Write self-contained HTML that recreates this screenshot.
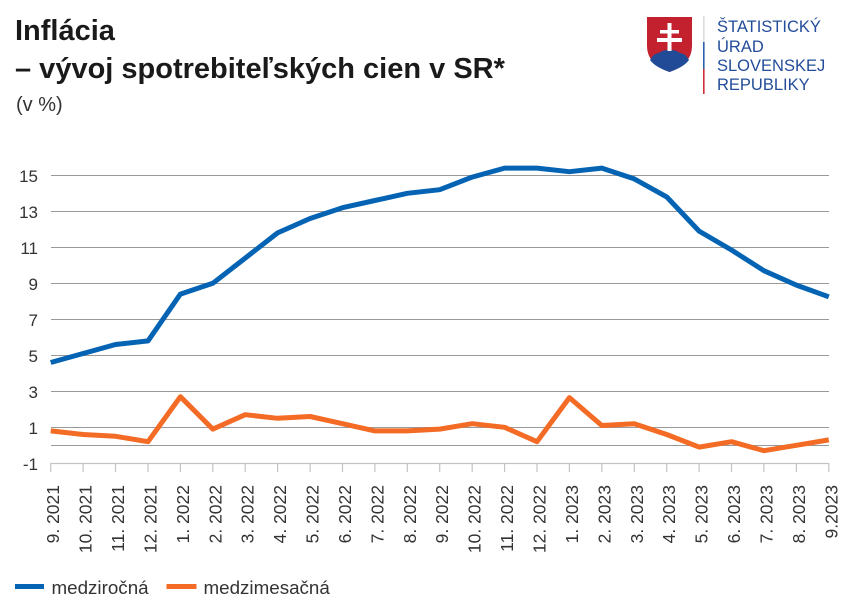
<!DOCTYPE html>
<html><head><meta charset="utf-8"><style>
html,body{margin:0;padding:0;background:#fff;}
body{width:854px;height:609px;overflow:hidden;}
svg{display:block;}
</style></head><body>
<svg width="854" height="609" viewBox="0 0 854 609" xmlns="http://www.w3.org/2000/svg" font-family="'Liberation Sans', sans-serif">
<rect width="854" height="609" fill="#fff"/>
<!-- Title -->
<text x="15" y="40" font-size="29" font-weight="bold" fill="#1a1a1a">Inflácia</text>
<text x="15" y="78" font-size="29" font-weight="bold" fill="#1a1a1a">– vývoj spotrebiteľských cien v SR*</text>
<text x="16" y="111" font-size="20" fill="#333">(v %)</text>

<!-- Logo -->
<path d="M647,17 L692,17 L692,46 Q692,64 669.5,72 Q647,64 647,46 Z" fill="#c4212f"/>
<path d="M650,60 Q654,53 659,53 Q663,50 667,50 Q669.5,48 672,50 Q676,50 680,53 Q685,53 689,60 Q684,67 669.5,72 Q655,67 650,60 Z" fill="#214a97"/>
<rect x="667.5" y="23" width="4" height="28" fill="#fff"/>
<rect x="660" y="30" width="19" height="3.5" fill="#fff"/>
<rect x="657" y="38" width="25" height="4" fill="#fff"/>
<rect x="703" y="16" width="1.6" height="26" fill="#dcdcdc"/>
<rect x="703" y="42" width="1.6" height="27" fill="#2f5fb0"/>
<rect x="703" y="69" width="1.6" height="25" fill="#d0303a"/>
<g font-size="16.5" fill="#234c9a">
<text x="717" y="32">ŠTATISTICKÝ</text>
<text x="717" y="52">ÚRAD</text>
<text x="717" y="71">SLOVENSKEJ</text>
<text x="717" y="90">REPUBLIKY</text>
</g>

<!-- Gridlines -->
<g stroke="#999" stroke-width="1">
<line x1="51" y1="175.5" x2="829" y2="175.5"/>
<line x1="51" y1="211.5" x2="829" y2="211.5"/>
<line x1="51" y1="247.5" x2="829" y2="247.5"/>
<line x1="51" y1="283.5" x2="829" y2="283.5"/>
<line x1="51" y1="319.5" x2="829" y2="319.5"/>
<line x1="51" y1="355.5" x2="829" y2="355.5"/>
<line x1="51" y1="391.5" x2="829" y2="391.5"/>
<line x1="51" y1="427.5" x2="829" y2="427.5"/>
<line x1="51" y1="445.5" x2="829" y2="445.5"/>
</g>
<!-- Axis -->
<g stroke="#c4c4c4" stroke-width="1.2">
<line x1="50.7" y1="463.5" x2="829" y2="463.5"/>
<path d="M50.7,463v9M83.1,463v9M115.5,463v9M148,463v9M180.4,463v9M212.8,463v9M245.2,463v9M277.6,463v9M310.1,463v9M342.5,463v9M374.9,463v9M407.3,463v9M439.7,463v9M472.2,463v9M504.6,463v9M537,463v9M569.4,463v9M601.8,463v9M634.3,463v9M666.7,463v9M699.1,463v9M731.5,463v9M763.9,463v9M796.4,463v9M828.8,463v9"/>
</g>

<!-- Y labels -->
<g font-size="17" fill="#333" text-anchor="end">
<text x="38" y="182">15</text>
<text x="38" y="218">13</text>
<text x="38" y="254">11</text>
<text x="38" y="290">9</text>
<text x="38" y="326">7</text>
<text x="38" y="362">5</text>
<text x="38" y="398">3</text>
<text x="38" y="434">1</text>
<text x="38" y="470">-1</text>
</g>

<!-- X labels -->
<g font-size="17.5" fill="#333" text-anchor="end">
<text transform="translate(59.2,485) rotate(-90)">9. 2021</text>
<text transform="translate(91.6,485) rotate(-90)">10. 2021</text>
<text transform="translate(124,485) rotate(-90)">11. 2021</text>
<text transform="translate(156.5,485) rotate(-90)">12. 2021</text>
<text transform="translate(188.9,485) rotate(-90)">1. 2022</text>
<text transform="translate(221.3,485) rotate(-90)">2. 2022</text>
<text transform="translate(253.7,485) rotate(-90)">3. 2022</text>
<text transform="translate(286.1,485) rotate(-90)">4. 2022</text>
<text transform="translate(318.6,485) rotate(-90)">5. 2022</text>
<text transform="translate(351,485) rotate(-90)">6. 2022</text>
<text transform="translate(383.4,485) rotate(-90)">7. 2022</text>
<text transform="translate(415.8,485) rotate(-90)">8. 2022</text>
<text transform="translate(448.2,485) rotate(-90)">9. 2022</text>
<text transform="translate(480.7,485) rotate(-90)">10. 2022</text>
<text transform="translate(513.1,485) rotate(-90)">11. 2022</text>
<text transform="translate(545.5,485) rotate(-90)">12. 2022</text>
<text transform="translate(577.9,485) rotate(-90)">1. 2023</text>
<text transform="translate(610.3,485) rotate(-90)">2. 2023</text>
<text transform="translate(642.8,485) rotate(-90)">3. 2023</text>
<text transform="translate(675.2,485) rotate(-90)">4. 2023</text>
<text transform="translate(707.6,485) rotate(-90)">5. 2023</text>
<text transform="translate(740,485) rotate(-90)">6. 2023</text>
<text transform="translate(772.4,485) rotate(-90)">7. 2023</text>
<text transform="translate(804.9,485) rotate(-90)">8. 2023</text>
<text transform="translate(837.3,485) rotate(-90)">9.2023</text>
</g>

<!-- Series -->
<polyline fill="none" stroke="#0563b4" stroke-width="5" stroke-linejoin="round" points="50.7,362.5 83.1,353.5 115.5,344.5 148,340.9 180.4,294.1 212.8,283.3 245.2,258.1 277.6,232.9 310.1,218.5 342.5,207.7 374.9,200.5 407.3,193.3 439.7,189.7 472.2,177.1 504.6,168.1 537,168.1 569.4,171.7 601.8,168.1 634.3,178.9 666.7,196.9 699.1,231.1 731.5,250 763.9,270.7 796.4,285.1 828.8,296.8"/>
<polyline fill="none" stroke="#f36b24" stroke-width="5" stroke-linejoin="round" points="50.7,430.9 83.1,434.5 115.5,436.3 148,441.7 180.4,396.7 212.8,429.1 245.2,414.7 277.6,418.3 310.1,416.5 342.5,423.7 374.9,430.9 407.3,430.9 439.7,429.1 472.2,423.7 504.6,427.3 537,441.7 569.4,397.6 601.8,425.5 634.3,423.7 666.7,434.5 699.1,447.1 731.5,441.7 763.9,450.7 796.4,445.3 828.8,439.9"/>

<!-- Legend -->
<rect x="15" y="584" width="29" height="5" fill="#0563b4"/>
<text x="51.5" y="594" font-size="18.8" fill="#333">medziročná</text>
<rect x="166.5" y="584" width="30" height="5" fill="#f36b24"/>
<text x="203.5" y="594" font-size="18.8" fill="#333">medzimesačná</text>
</svg>
</body></html>
